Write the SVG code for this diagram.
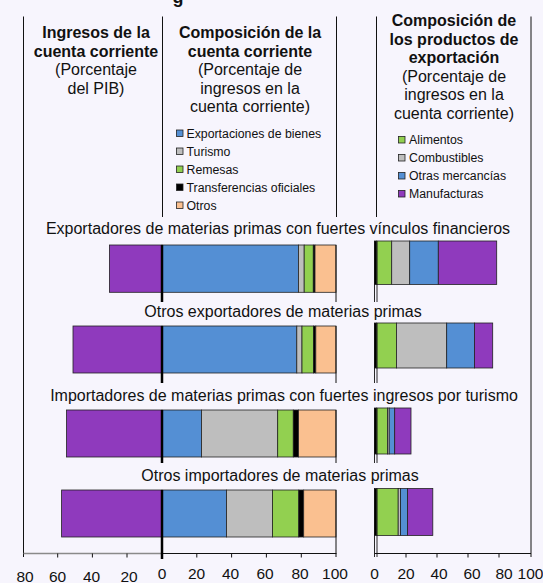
<svg xmlns="http://www.w3.org/2000/svg" width="543" height="583" viewBox="0 0 543 583">
<style>
text{font-family:"Liberation Sans",Arial,sans-serif;fill:#111}
.h{font-size:16px;font-weight:bold;text-anchor:middle}
.s{font-size:16px;text-anchor:middle}
.lg{font-size:12.3px}
.cat{font-size:16px;text-anchor:middle}
.tk{font-size:15.5px;text-anchor:middle}
.ln{stroke:#111;stroke-width:1;fill:none}
rect.b{stroke:#222;stroke-width:0.8}
.pu{fill:#8F3ABD}.bl{fill:#548FD4}.gr{fill:#BEBEBE}.gn{fill:#92D050}.bk{fill:#000}.or{fill:#FAC090}
</style>
<rect x="0" y="0" width="543" height="583" fill="#F7F5FD"/>
<text x="178" y="3" style="font-size:18px;font-weight:bold;text-anchor:middle">g</text>

<g id="frame">
<line class="ln" x1="23.5" y1="16.5" x2="23.5" y2="557"/>
<line class="ln" x1="531" y1="16.5" x2="531" y2="557"/>
<line class="ln" x1="162.5" y1="16.5" x2="162.5" y2="217"/>
<line class="ln" x1="336.5" y1="16.5" x2="336.5" y2="217"/>
<line class="ln" x1="376.5" y1="16.5" x2="376.5" y2="217"/>
</g>

<g id="header-ingresos">
<text class="h" x="96" y="38">Ingresos de la</text>
<text class="h" x="96" y="56.5">cuenta corriente</text>
<text class="s" x="96" y="75">(Porcentaje</text>
<text class="s" x="96" y="93.5">del PIB)</text>
</g>
<g id="header-composicion">
<text class="h" x="250" y="38">Composición de la</text>
<text class="h" x="250" y="56.5">cuenta corriente</text>
<text class="s" x="250" y="75">(Porcentaje de</text>
<text class="s" x="250" y="93.5">ingresos en la</text>
<text class="s" x="250" y="112">cuenta corriente)</text>
</g>
<g id="header-exportacion">
<text class="h" x="454" y="26">Composición de</text>
<text class="h" x="454" y="44.5">los productos de</text>
<text class="h" x="454" y="63">exportación</text>
<text class="s" x="454" y="81.5">(Porcentaje de</text>
<text class="s" x="454" y="100">ingresos en la</text>
<text class="s" x="454" y="118.5">cuenta corriente)</text>
</g>

<g id="legend-composicion">
<rect class="b bl" x="176.5" y="130" width="6.5" height="6.5"/><text class="lg" x="186.5" y="137.5">Exportaciones de bienes</text>
<rect class="b gr" x="176.5" y="148" width="6.5" height="6.5"/><text class="lg" x="186.5" y="155.5">Turismo</text>
<rect class="b gn" x="176.5" y="166" width="6.5" height="6.5"/><text class="lg" x="186.5" y="173.5">Remesas</text>
<rect class="b bk" x="176.5" y="184" width="6.5" height="6.5"/><text class="lg" x="186.5" y="191.5">Transferencias oficiales</text>
<rect class="b or" x="176.5" y="202" width="6.5" height="6.5"/><text class="lg" x="186.5" y="209.5">Otros</text>
</g>
<g id="legend-exportacion">
<rect class="b gn" x="398.5" y="136.5" width="6.5" height="6.5"/><text class="lg" x="409" y="144">Alimentos</text>
<rect class="b gr" x="398.5" y="154.5" width="6.5" height="6.5"/><text class="lg" x="409" y="162">Combustibles</text>
<rect class="b bl" x="398.5" y="172.5" width="6.5" height="6.5"/><text class="lg" x="409" y="180">Otras mercancías</text>
<rect class="b pu" x="398.5" y="190.5" width="6.5" height="6.5"/><text class="lg" x="409" y="198">Manufacturas</text>
</g>

<g id="row1">
<text class="cat" x="278" y="234">Exportadores de materias primas con fuertes vínculos financieros</text>
<rect class="b pu" x="109.4" y="245" width="52.6" height="47.3"/>
<rect class="b bl" x="162" y="245" width="136.4" height="47.3"/>
<rect class="b gr" x="298.4" y="245" width="5.8" height="47.3"/>
<rect class="b gn" x="304.2" y="245" width="9.1" height="47.3"/>
<rect class="b bk" x="313.3" y="245" width="1.7" height="47.3"/>
<rect class="b or" x="315" y="245" width="21" height="47.3"/>
<rect class="b bk" x="374.5" y="241" width="2.2" height="43.5"/>
<rect class="b gn" x="376.7" y="241" width="15" height="43.5"/>
<rect class="b gr" x="391.7" y="241" width="18" height="43.5"/>
<rect class="b bl" x="409.7" y="241" width="28.6" height="43.5"/>
<rect class="b pu" x="438.3" y="241" width="58.4" height="43.5"/>
</g>
<g id="row2">
<text class="cat" x="283" y="317">Otros exportadores de materias primas</text>
<rect class="b pu" x="73" y="326" width="89" height="47"/>
<rect class="b bl" x="162" y="326" width="134.8" height="47"/>
<rect class="b gr" x="296.8" y="326" width="5.2" height="47"/>
<rect class="b gn" x="302" y="326" width="11.4" height="47"/>
<rect class="b bk" x="313.4" y="326" width="2.4" height="47"/>
<rect class="b or" x="315.8" y="326" width="20.2" height="47"/>
<rect class="b bk" x="374.5" y="323" width="2.2" height="45"/>
<rect class="b gn" x="376.7" y="323" width="19.8" height="45"/>
<rect class="b gr" x="396.5" y="323" width="50.2" height="45"/>
<rect class="b bl" x="446.7" y="323" width="27.7" height="45"/>
<rect class="b pu" x="474.4" y="323" width="18.3" height="45"/>
</g>
<g id="row3">
<text class="cat" x="284" y="401">Importadores de materias primas con fuertes ingresos por turismo</text>
<rect class="b pu" x="66.5" y="410" width="95.5" height="47"/>
<rect class="b bl" x="162" y="410" width="39.5" height="47"/>
<rect class="b gr" x="201.5" y="410" width="76.2" height="47"/>
<rect class="b gn" x="277.7" y="410" width="15.6" height="47"/>
<rect class="b bk" x="293.3" y="410" width="5.2" height="47"/>
<rect class="b or" x="298.5" y="410" width="37.5" height="47"/>
<rect class="b bk" x="374.5" y="408" width="2.2" height="46"/>
<rect class="b gn" x="376.7" y="408" width="10.8" height="46"/>
<rect class="b gr" x="387.5" y="408" width="1.7" height="46"/>
<rect class="b bl" x="389.2" y="408" width="5.5" height="46"/>
<rect class="b pu" x="394.7" y="408" width="16.3" height="46"/>
</g>
<g id="row4">
<text class="cat" x="280" y="481">Otros importadores de materias primas</text>
<rect class="b pu" x="61.6" y="490" width="100.4" height="47"/>
<rect class="b bl" x="162" y="490" width="64.5" height="47"/>
<rect class="b gr" x="226.5" y="490" width="46" height="47"/>
<rect class="b gn" x="272.5" y="490" width="26.3" height="47"/>
<rect class="b bk" x="298.8" y="490" width="4.9" height="47"/>
<rect class="b or" x="303.7" y="490" width="32.3" height="47"/>
<rect class="b bk" x="374.5" y="488.5" width="2.2" height="47"/>
<rect class="b gn" x="376.7" y="488.5" width="21.5" height="47"/>
<rect class="b gr" x="398.2" y="488.5" width="2.4" height="47"/>
<rect class="b bl" x="400.6" y="488.5" width="7" height="47"/>
<rect class="b pu" x="407.6" y="488.5" width="25.2" height="47"/>
</g>

<g id="axes">
<line x1="23.5" y1="553.5" x2="162" y2="553.5" stroke="#8a8a8a" stroke-width="1.5"/>
<line class="ln" x1="162" y1="553.5" x2="336.5" y2="553.5"/>
<line class="ln" x1="374.5" y1="553.5" x2="531" y2="553.5"/>
<path class="ln" d="M336 245V302M336 326V383M336 410V463M336 490V557"/>
<path d="M374.5 241V302M374.5 323V383M374.5 408V463M374.5 488.5V557M377 241V302M377 323V383M377 408V463M377 488.5V557" stroke="#111" stroke-width="0.9" fill="none"/>
<path d="M162 245V302M162 326V383M162 410V463M162 490V559" stroke="#000" stroke-width="2.5" fill="none"/>
<path class="ln" d="M57.7 553.5v4M92.4 553.5v4M127 553.5v4M196.8 553.5v4M231.6 553.5v4M266.4 553.5v4M301.3 553.5v4M406 553.5v4M437 553.5v4M468 553.5v4M499 553.5v4"/>
<text class="tk" x="25" y="582">80</text>
<text class="tk" x="57.5" y="582">60</text>
<text class="tk" x="91.5" y="582">40</text>
<text class="tk" x="129" y="582">20</text>
<text class="tk" x="162" y="579">0</text>
<text class="tk" x="196.5" y="579">20</text>
<text class="tk" x="230.5" y="579">40</text>
<text class="tk" x="265" y="579">60</text>
<text class="tk" x="300" y="579">80</text>
<text class="tk" x="335" y="579">100</text>
<text class="tk" x="374.5" y="579">0</text>
<text class="tk" x="406" y="579">20</text>
<text class="tk" x="439" y="579">40</text>
<text class="tk" x="472" y="579">60</text>
<text class="tk" x="504" y="579">80</text>
<text class="tk" x="530.5" y="579">100</text>
</g>
</svg>
